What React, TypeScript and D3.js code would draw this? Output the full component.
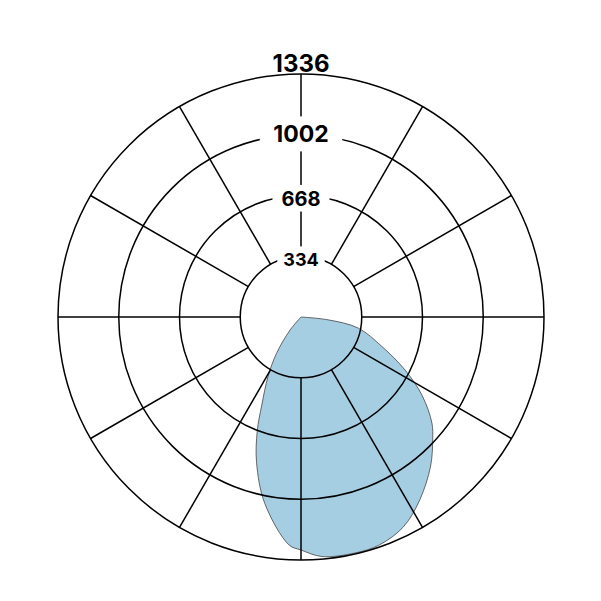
import React, { useEffect, useRef } from 'react';
import * as d3 from 'd3';

// Radial rings and their tick labels
const ringValues = [334, 668, 1002, 1336];
const ringLabels = ['334', '668', '1002', '1336'];
const maxValue = 1336;

// Spokes every 30 degrees
const spokeAngles = [0, 30, 60, 90, 120, 150, 180, 210, 240, 270, 300, 330];

// Series: direction (degrees, clockwise from north) and value
const angles = [
  96, 101, 110, 117, 123, 129, 133, 139, 147, 154, 161, 167, 175,
  180, 183, 191, 197, 201, 204, 209, 214, 220,
];
const values = [
  151, 321, 473, 642, 795, 926, 990, 1086, 1199, 1284, 1325, 1331, 1322,
  1281, 1255, 1044, 836, 671, 530, 374, 240, 93,
];

const WIDTH = 601;
const HEIGHT = 601;

// label look per ring
const labelFont = [18, 20, 23, 24];
const labelOffset = [10, 10, 7.5, -2];
const labelPadX = [6, 9, 13.5, 0];
const labelHalfH = [13.3, 13.3, 17.5, 0];

const PolarChart: React.FC = () => {
  const svgRef = useRef<SVGSVGElement>(null);

  useEffect(() => {
    if (!svgRef.current) return;
    const svg = d3.select(svgRef.current);
    svg.selectAll('*').remove();

    const cx = 301;
    const cy = 317;
    const outer = 243;

    const r = d3.scaleLinear().domain([0, maxValue]).range([0, outer]);
    const toRad = (deg: number) => (deg * Math.PI) / 180;

    const g = svg.append('g').attr('transform', `translate(${cx},${cy})`);

    // Filled series shape, starting and ending at the centre
    const points: [number, number][] = [[angles[0], 0]];
    angles.forEach((a, i) => points.push([a, values[i]]));
    points.push([angles[angles.length - 1], 0]);

    const line = d3
      .lineRadial<[number, number]>()
      .angle(d => toRad(d[0]))
      .radius(d => r(d[1]))
      .curve(d3.curveCatmullRom.alpha(0.5));

    g.append('path')
      .attr('d', line(points) + 'Z')
      .attr('fill', '#a6cee3')
      .attr('stroke', '#444')
      .attr('stroke-width', 0.8);

    // Rings
    g.selectAll('.ring')
      .data(ringValues)
      .enter()
      .append('circle')
      .attr('class', 'ring')
      .attr('r', d => r(d))
      .attr('fill', 'none')
      .attr('stroke', '#000')
      .attr('stroke-width', 1.5);

    // Spokes from the first ring to the outer ring
    g.selectAll('.spoke')
      .data(spokeAngles)
      .enter()
      .append('line')
      .attr('class', 'spoke')
      .attr('x1', d => r(ringValues[0]) * Math.sin(toRad(d)))
      .attr('y1', d => -r(ringValues[0]) * Math.cos(toRad(d)))
      .attr('x2', d => r(maxValue) * Math.sin(toRad(d)))
      .attr('y2', d => -r(maxValue) * Math.cos(toRad(d)))
      .attr('stroke', '#000')
      .attr('stroke-width', 1.5);

    // Ring labels along the north spoke
    ringValues.forEach((v, i) => {
      const baseline = -r(v) + labelOffset[i];
      const lg = g.append('g');
      const bg = lg.append('rect').attr('fill', '#fff');
      const txt = lg
        .append('text')
        .attr('x', 0)
        .attr('y', baseline)
        .attr('text-anchor', 'middle')
        .style('font-family', 'Inter, "DejaVu Sans", sans-serif')
        .style('font-weight', '700')
        .style('font-size', `${labelFont[i]}px`)
        .style('fill', '#000')
        .text(ringLabels[i]);

      if (labelHalfH[i] > 0) {
        const w = (txt.node() as SVGTextElement).getComputedTextLength();
        const capMid = baseline - labelFont[i] * 0.727 / 2;
        bg.attr('x', -w / 2 - labelPadX[i])
          .attr('y', capMid - labelHalfH[i])
          .attr('width', w + 2 * labelPadX[i])
          .attr('height', 2 * labelHalfH[i]);
      } else {
        bg.remove();
      }
    });
  }, []);

  return (
    <svg
      ref={svgRef}
      width={WIDTH}
      height={HEIGHT}
      style={{ position: 'absolute', left: 0, top: 0, background: '#fff' }}
    />
  );
};

export default function App() {
  return <PolarChart />;
}
